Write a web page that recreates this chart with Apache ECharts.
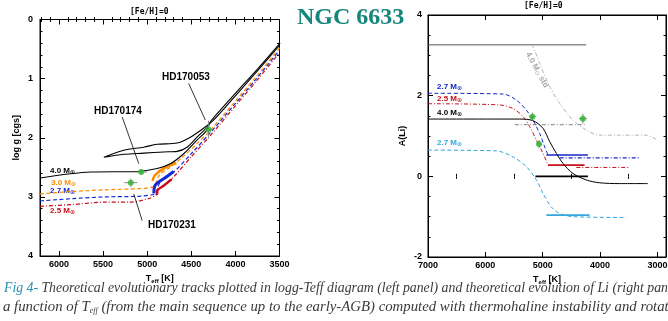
<!DOCTYPE html>
<html><head><meta charset="utf-8">
<script src="https://cdn.jsdelivr.net/npm/echarts@6/dist/echarts.min.js"></script>
<style>html,body{margin:0;padding:0;background:#fff;overflow:hidden}#c{width:668px;height:321px}</style>
</head><body><div id="c"></div><script>
// ---------- LEFT PANEL DATA (Teff, log g) ----------
const teffTicksL = [6000, 5500, 5000, 4500, 4000, 3500];
const loggTicks = [0, 1, 2, 3, 4];
const track40 = [[6215,2.68],[5640,2.58],[5113,2.57],[4887,2.52],[4737,2.44],[4586,2.27],[4435,2.04],[4322,1.87],[4284,1.73],[4000,1.25],[3750,0.84],[3493,0.40]];
const track40loop = [[4300,1.80],[4435,1.99],[4548,2.16],[4661,2.23],[4813,2.24],[5039,2.26],[5265,2.28],[5491,2.33],[5265,2.21],[5039,2.16],[4887,2.11],[4661,2.09],[4510,1.99],[4360,1.84],[4260,1.72],[4000,1.29],[3750,0.87],[3500,0.44]];
const track30 = [[6215,2.95],[5853,2.91],[5475,2.88],[5099,2.86],[4929,2.83],[4900,2.76],[4880,2.68],[4850,2.61],[4760,2.52],[4600,2.33],[4450,2.12],[4300,1.90],[4000,1.38],[3750,0.94],[3500,0.48]];
const track27 = [[6215,3.07],[5853,3.03],[5475,3.00],[5099,2.99],[4929,2.96],[4900,2.92],[4880,2.85],[4850,2.74],[4699,2.58],[4500,2.27],[4300,1.94],[4000,1.42],[3750,0.98],[3500,0.52]];
const track25 = [[6215,3.16],[5853,3.13],[5475,3.09],[5211,3.09],[4985,3.03],[4892,2.96],[4870,2.88],[4800,2.78],[4699,2.66],[4500,2.32],[4300,1.99],[4000,1.46],[3750,1.02],[3500,0.56]];
const clump30 = [[4940,2.73],[4915,2.64],[4860,2.57],[4770,2.49],[4670,2.43],[4760,2.47],[4880,2.58]];
const clump27 = [[4925,2.94],[4915,2.82],[4880,2.76],[4800,2.68],[4700,2.57]];
const clump25 = [[4890,2.97],[4880,2.88],[4820,2.82],[4720,2.70]];
const starTeff = [5068, 5186, 4304];
const starLogg = [2.58, 2.76, 1.86];
const starTeffErr = [65, 75, 45];
const starLoggErr = [0.05, 0.07, 0.15];
const leaderLines = [[[4530,1.08],[4341,1.70]], [[5283,1.65],[5095,2.44]], [[5152,2.95],[5057,3.40]]];

// ---------- RIGHT PANEL DATA (Teff, A(Li)) ----------
const teffTicksR = [7000, 6000, 5000, 4000, 3000];
const liTicks = [-2, 0, 2, 4];
const liStdTop = [[7000,3.26],[4240,3.26]];
const liStdCurve = [[5200,3.26],[5168,3.21],[5052,2.80],[4878,2.22],[4704,1.81],[4472,1.39],[4240,1.15],[4008,1.02],[3661,1.02],[3197,1.02],[3023,0.92]];
const liStdFlat = [[5487,1.28],[4240,1.28]];
const li27 = [[7000,2.06],[5690,2.04],[5458,1.89],[5284,1.64],[5168,1.39],[5052,1.06],[4965,0.73],[4908,0.53]];
const li27a = [[4936,0.53],[4212,0.53]];
const li27b = [[4704,0.46],[3313,0.46]];
const li25 = [[7000,1.80],[5748,1.77],[5516,1.68],[5342,1.48],[5226,1.23],[5110,0.90],[4995,0.57],[4908,0.28]];
const li25a = [[4908,0.28],[4270,0.28]];
const li25b = [[4414,0.22],[3475,0.22]];
const li40 = [[7000,1.42],[5400,1.42],[5168,1.38],[4995,1.19],[4878,0.86],[4762,0.57],[4646,0.32],[4472,0.07],[4240,-0.09],[4008,-0.16],[3661,-0.18],[3168,-0.18]];
const li40a = [[5127,0.0],[4212,0.0]];
const li27c = [[7000,0.65],[5805,0.63],[5516,0.48],[5284,0.24],[5110,-0.09],[4995,-0.42],[4850,-0.76],[4704,-0.92],[4472,-1.00],[3544,-1.02]];
const li27ca = [[4936,-0.96],[4183,-0.96]];
const obsTeff = [5179, 5064, 4299];
const obsLi = [1.48, 0.80, 1.43];
const obsTeffErr = [58, 45, 70];
const obsLiErr = [0.10, 0.10, 0.12];

// ---------- helpers ----------
function range(a, b, s) { const r = []; for (let v = a; v <= b + 1e-9; v += s) r.push(+v.toFixed(3)); return r; }
const minorL = range(3600, 6200, 100).filter(v => v % 500 !== 0);
const minorLy = range(0.2, 3.8, 0.2).filter(v => Math.abs(v - Math.round(v)) > 1e-6);
const minorR = range(3500, 6500, 1000);
const minorRy = range(-1.5, 3.5, 0.5).filter(v => Math.abs(v/2 - Math.round(v/2)) > 1e-6);

const lab = {fontSize: 9, fontWeight: 'bold', color: '#000', fontFamily: 'Liberation Sans', formatter: v => String(v)};
function axis(grid, pos, min, max, inverse, major, minor, labels, extra) {
  const out = [];
  const base = {gridIndex: grid, type: 'value', position: pos, min, max, inverse,
    splitLine: {show: false}, axisLine: {show: true, onZero: false, lineStyle: {color: '#000', width: 1}}};
  out.push(Object.assign({}, base, {
    axisTick: {show: true, inside: true, length: 5, customValues: major, lineStyle: {color: '#000'}},
    axisLabel: labels ? Object.assign({show: true, customValues: labels}, lab, extra || {}) : {show: false}
  }));
  out.push(Object.assign({}, base, {
    axisLine: {show: false},
    axisTick: {show: true, inside: true, length: 2.5, customValues: minor, lineStyle: {color: '#000'}},
    axisLabel: {show: false}
  }));
  return out;
}
const nameStyleX = {fontSize: 9, fontWeight: 'bold', color: '#000', fontFamily: 'Liberation Sans',
  rich: {s: {fontSize: 6, fontWeight: 'bold', fontFamily: 'Liberation Sans', verticalAlign: 'bottom', padding: [4,0,0,0]}}};

const xAxes = [].concat(
  axis(0, 'bottom', 3500, 6215, true, teffTicksL, minorL, teffTicksL, {margin: 4}),
  axis(0, 'top', 3500, 6215, true, teffTicksL, minorL, null),
  axis(1, 'bottom', 2850, 7000, true, teffTicksR, minorR, teffTicksR, {margin: 4}),
  axis(1, 'top', 2850, 7000, true, teffTicksR, minorR, null)
);
xAxes[0].name = 'T{s|eff} [K]'; xAxes[0].nameLocation = 'middle'; xAxes[0].nameGap = 18; xAxes[0].nameTextStyle = nameStyleX;
xAxes[4].name = 'T{s|eff} [K]'; xAxes[4].nameLocation = 'middle'; xAxes[4].nameGap = 18; xAxes[4].nameTextStyle = nameStyleX;

const yAxes = [].concat(
  axis(0, 'left', 0, 4, true, loggTicks, minorLy, loggTicks, {margin: 7}),
  axis(0, 'right', 0, 4, true, loggTicks, minorLy, null),
  axis(1, 'left', -2, 4, false, liTicks, minorRy, liTicks, {margin: 6}),
  axis(1, 'right', -2, 4, false, liTicks, minorRy, null)
);
yAxes[0].name = 'log g [cgs]'; yAxes[0].nameLocation = 'middle'; yAxes[0].nameGap = 19;
yAxes[0].nameTextStyle = {fontSize: 9, fontWeight: 'bold', color: '#000', fontFamily: 'Liberation Sans'};
yAxes[4].name = 'A(Li)'; yAxes[4].nameLocation = 'middle'; yAxes[4].nameGap = 21;
yAxes[4].nameTextStyle = {fontSize: 9, fontWeight: 'bold', color: '#000', fontFamily: 'Liberation Sans'};

const series = [];
function line(data, panel, color, width, type, smooth) {
  series.push({type: 'line', data, xAxisIndex: panel * 4, yAxisIndex: panel * 4, showSymbol: false, symbol: 'none',
    smooth: smooth || false, z: 3, silent: true, clip: true,
    lineStyle: {color, width, type: type || 'solid'}});
}
const DASH = [4, 2.5], DASHDOT = [4, 2, 1, 2];
// left panel tracks
line(track25, 0, '#c8101a', 1.2, DASHDOT, 0.3);
line(track27, 0, '#1428d8', 1.2, DASH, 0.3);
line(track30, 0, '#ff8c00', 1.2, DASH, 0.3);
line(clump25, 0, '#c8101a', 2.5, 'solid', 0.3);
line(clump27, 0, '#1428d8', 3, 'solid', 0.3);
line(clump30, 0, '#ff8c00', 2.5, 'solid', 0.3);
line(track40, 0, '#000', 1.1, 'solid', 0.3);
line(track40loop, 0, '#000', 1.1, 'solid', 0.3);
leaderLines.forEach(l => line(l, 0, '#000', 0.8));
// left panel stars
starTeff.forEach((t, i) => {
  line([[t - starTeffErr[i], starLogg[i]], [t + starTeffErr[i], starLogg[i]]], 0, '#8a8a8a', 1);
  line([[t, starLogg[i] - starLoggErr[i]], [t, starLogg[i] + starLoggErr[i]]], 0, '#8a8a8a', 1);
});
series.push({type: 'scatter', xAxisIndex: 0, yAxisIndex: 0, z: 5, symbolSize: 6, silent: true,
  itemStyle: {color: '#2db52d'}, data: starTeff.map((t, i) => [t, starLogg[i]])});

// right panel tracks
line(liStdTop, 1, '#555', 1, 'solid');
line(liStdCurve, 1, '#b4b4b4', 1, DASHDOT, 0.3);
line(liStdFlat, 1, '#9a9a9a', 1.2, DASHDOT);
line(li27, 1, '#1428c8', 1, DASH, 0.3);
line(li27a, 1, '#1428c8', 1.5, 'solid');
line(li27b, 1, '#1428c8', 1.2, DASHDOT);
line(li25, 1, '#c8101a', 1, DASHDOT, 0.3);
line(li25a, 1, '#c8101a', 1.8, 'solid');
line(li25b, 1, '#c8101a', 1, DASHDOT);
line(li40, 1, '#000', 1, 'solid', 0.3);
line(li40a, 1, '#000', 1.8, 'solid');
line(li27c, 1, '#33a6dd', 1, DASH, 0.3);
line(li27ca, 1, '#33a6dd', 1.8, 'solid');
obsTeff.forEach((t, i) => {
  line([[t - obsTeffErr[i], obsLi[i]], [t + obsTeffErr[i], obsLi[i]]], 1, '#8a8a8a', 1);
  line([[t, obsLi[i] - obsLiErr[i]], [t, obsLi[i] + obsLiErr[i]]], 1, '#8a8a8a', 1);
});
series.push({type: 'scatter', xAxisIndex: 4, yAxisIndex: 4, z: 5, symbolSize: 6, silent: true,
  itemStyle: {color: '#2db52d'}, data: obsTeff.map((t, i) => [t, obsLi[i]])});

// ---------- texts ----------
function mlab(x, y, txt, color) {
  return {type: 'text', left: x, top: y, silent: true, style: {text: txt + ' M{s|⊙}', fill: color,
    font: 'bold 8px "Liberation Sans"', rich: {s: {fill: color, fontSize: 6, fontWeight: 'bold', fontFamily: 'DejaVu Sans', padding: [3,0,0,0]}}}};
}
const graphic = [
  {type: 'text', left: 130, top: 8, style: {text: '[Fe/H]=0', fill: '#000', font: 'bold 8px "DejaVu Sans Mono"'}},
  {type: 'text', left: 524, top: 2, style: {text: '[Fe/H]=0', fill: '#000', font: 'bold 8px "DejaVu Sans Mono"'}},
  {type: 'text', left: 297, top: 6, style: {text: 'NGC 6633', fill: '#16867c', font: 'bold 24px "Liberation Serif"'}},
  {type: 'text', left: 162, top: 72, style: {text: 'HD170053', fill: '#000', font: 'bold 10px "Liberation Sans"'}},
  {type: 'text', left: 94, top: 106, style: {text: 'HD170174', fill: '#000', font: 'bold 10px "Liberation Sans"'}},
  {type: 'text', left: 148, top: 220, style: {text: 'HD170231', fill: '#000', font: 'bold 10px "Liberation Sans"'}},
  mlab(50, 167, '4.0', '#000'),
  mlab(51, 179, '3.0', '#ff8c00'),
  mlab(50, 187, '2.7', '#1428c8'),
  mlab(50, 207, '2.5', '#c8101a'),
  mlab(437, 83, '2.7', '#1428c8'),
  mlab(437, 95, '2.5', '#c8101a'),
  mlab(437, 109, '4.0', '#000'),
  mlab(437, 139, '2.7', '#33a6dd'),
  {type: 'text', x: 537, y: 70, rotation: -1.07, silent: true,
    style: {text: '4.0 M{s|⊙} std', fill: '#a8a8a8', align: 'center', verticalAlign: 'middle', font: 'bold 8px "Liberation Sans"',
      rich: {s: {fill: '#a8a8a8', fontSize: 6, fontFamily: 'DejaVu Sans', padding: [3,0,0,0]}}}},
  {type: 'text', left: 4, top: 281, silent: true, style: {
    text: '{a|Fig 4-} {b|Theoretical evolutionary tracks plotted in logg-Teff diagram (left panel) and theoretical evolution of Li (right panel) as}',
    rich: {a: {fill: '#2b8db3', fontSize: 13.8, fontStyle: 'italic', fontFamily: 'Liberation Serif'},
           b: {fill: '#3a3a3a', fontSize: 13.8, fontStyle: 'italic', fontFamily: 'Liberation Serif'}}}},
  {type: 'text', left: 3, top: 300, silent: true, style: {
    text: '{b|a function of T}{s|eff}{b| (from the main sequence up to the early-AGB) computed with thermohaline instability and rotation}',
    rich: {b: {fill: '#3a3a3a', fontSize: 14.8, fontStyle: 'italic', fontFamily: 'Liberation Serif'},
           s: {fill: '#3a3a3a', fontSize: 8, fontStyle: 'italic', fontFamily: 'Liberation Serif', padding: [7,0,0,0]}}}}
];

const chart = echarts.init(document.getElementById('c'), null, {renderer: 'canvas'});
chart.setOption({
  animation: false,
  backgroundColor: '#fff',
  grid: [{left: 40, top: 19.5, width: 239.5, height: 236.5, outerBoundsMode: 'none', containLabel: false,
          show: true, borderColor: '#000', borderWidth: 1, backgroundColor: 'transparent'},
         {left: 428, top: 15, width: 238, height: 242, outerBoundsMode: 'none', containLabel: false,
          show: true, borderColor: '#000', borderWidth: 1, backgroundColor: 'transparent'}],
  xAxis: xAxes, yAxis: yAxes, series, graphic
});
</script></body></html>
